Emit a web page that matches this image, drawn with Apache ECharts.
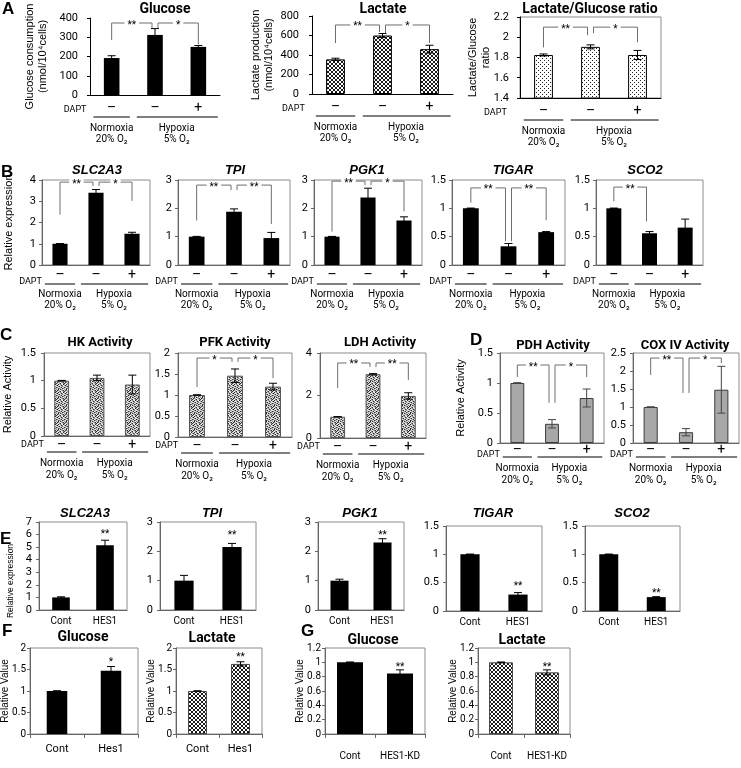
<!DOCTYPE html>
<html><head><meta charset="utf-8"><title>Figure</title>
<script src="https://cdn.jsdelivr.net/npm/echarts@6.0.0/dist/echarts.min.js"></script>
<style>html,body{margin:0;padding:0;background:#fff;}#chart{width:741px;height:768px;}</style>
</head><body><div id="chart"></div>
<script>
// ---------- categories & labels ----------
const conditions = ['Normoxia', 'Hypoxia', 'Hypoxia + DAPT'];
const daptSigns = ['–', '–', '+'];
const groupNames = ['Normoxia', 'Hypoxia'];
const groupO2 = ['20% O₂', '5% O₂'];
const catsE = ['Cont', 'HES1'];
const catsF = ['Cont', 'Hes1'];
const catsG = ['Cont', 'HES1-KD'];

// ---------- A ----------
const aGlucose = [192, 312, 250];
const aGlucoseErr = [12, 33, 7];
const aGlucoseSig = [[0, 1, 374, 286, 348, '**'], [1, 2, 374, 348, 262, '*']];
const aLactate = [355, 600, 460];
const aLactateErr = [12, 20, 40];
const aLactateSig = [[0, 1, 708, 523, 636, '**'], [1, 2, 708, 625, 523, '*']];
const aRatio = [1.825, 1.905, 1.825];
const aRatioErr = [0.01, 0.02, 0.045];
const aRatioSig = [[0, 1, 2.1, 1.9, 2.02, '**'], [1, 2, 2.1, 2.04, 1.95, '*']];

// ---------- B ----------
const bSLC2A3 = [1, 3.4, 1.47];
const bSLC2A3Err = [0.005, 0.15, 0.07];
const bSLC2A3Sig = [[0, 1, 3.9, 2.37, 3.72, '**'], [1, 2, 3.9, 3.72, 3.02, '*']];
const bTPI = [1, 1.88, 0.95];
const bTPIErr = [0.01, 0.1, 0.2];
const bTPISig = [[0, 1, 2.82, 1.57, 2.64, '**'], [1, 2, 2.82, 2.64, 1.45, '**']];
const bPGK1 = [1, 2.38, 1.57];
const bPGK1Err = [0.01, 0.33, 0.13];
const bPGK1Sig = [[0, 1, 2.96, 1.18, 2.82, '**'], [1, 2, 2.96, 2.82, 1.89, '*']];
const bTIGAR = [1, 0.33, 0.58];
const bTIGARErr = [0.005, 0.05, 0.01];
const bTIGARSig = [[0, 1, 1.36, 1.1, 0.42, '**'], [1, 2, 1.36, 0.42, 0.79, '**']];
const bSCO2 = [1, 0.56, 0.66];
const bSCO2Err = [0.005, 0.03, 0.15];
const bSCO2Sig = [[0, 1, 1.375, 1.125, 0.77, '**']];

// ---------- C ----------
const cHK = [1, 1.05, 0.93];
const cHKErr = [0.005, 0.05, 0.17];
const cHKSig = [];
const cPFK = [1, 1.46, 1.2];
const cPFKErr = [0.005, 0.16, 0.08];
const cPFKSig = [[0, 1, 1.88, 1.19, 1.79, '*'], [1, 2, 1.88, 1.79, 1.4, '*']];
const cLDH = [1, 3, 1.98];
const cLDHErr = [0.005, 0.03, 0.15];
const cLDHSig = [[0, 1, 3.53, 2.35, 3.34, '**'], [1, 2, 3.53, 3.34, 2.73, '**']];

// ---------- D ----------
const dPDH = [1, 0.32, 0.75];
const dPDHErr = [0.005, 0.07, 0.15];
const dPDHSig = [[0, 1, 1.3, 1.1, 0.67, '**'], [1, 2, 1.3, 0.67, 1.1, '*']];
const dCOX = [1, 0.3, 1.48];
const dCOXErr = [0.005, 0.1, 0.65];
const dCOXSig = [[0, 1, 2.36, 1.89, 1.39, '**'], [1, 2, 2.36, 1.39, 2.22, '*']];

// ---------- E ----------
const eSLC2A3 = [1, 5.15];
const eSLC2A3Err = [0.05, 0.4];
const eSLC2A3Star = [[1, 6.2, '**']];
const eTPI = [1, 2.15];
const eTPIErr = [0.18, 0.12];
const eTPIStar = [[1, 2.62, '**']];
const ePGK1 = [1, 2.3];
const ePGK1Err = [0.05, 0.13];
const ePGK1Star = [[1, 2.62, '**']];
const eTIGAR = [1, 0.29];
const eTIGARErr = [0.005, 0.035];
const eTIGARStar = [[1, 0.46, '**']];
const eSCO2 = [1, 0.245];
const eSCO2Err = [0.005, 0.008];
const eSCO2Star = [[1, 0.34, '**']];

// ---------- F ----------
const fGlucose = [1, 1.47];
const fGlucoseErr = [0.005, 0.1];
const fGlucoseStar = [[1, 1.72, '*']];
const fLactate = [1, 1.63];
const fLactateErr = [0.005, 0.05];
const fLactateStar = [[1, 1.83, '**']];

// ---------- G ----------
const gGlucose = [1, 0.845];
const gGlucoseErr = [0.005, 0.05];
const gGlucoseStar = [[1, 0.96, '**']];
const gLactate = [1, 0.86];
const gLactateErr = [0.005, 0.035];
const gLactateStar = [[1, 0.96, '**']];

// ================= rendering =================
const FN = '"Liberation Sans Narrow", Roboto, "Liberation Sans", sans-serif';
const FA = '"Liberation Sans", Arial, sans-serif';

function pat(rows, colors) {
  const c = document.createElement('canvas');
  c.width = rows[0].length; c.height = rows.length;
  const g = c.getContext('2d');
  rows.forEach((r, y) => { for (let x = 0; x < r.length; x++) { g.fillStyle = colors[r[x]]; g.fillRect(x, y, 1, 1); } });
  return { image: c, repeat: 'repeat' };
}
const HATCH = pat(['k..k', '.kk.', '.kk.', 'k..k'], { k: '#1a1a1a', '.': '#ffffff' });
const DOTS = pat(['k...', '....', '..k.', '....'], { k: '#222222', '.': '#ffffff' });
const GRANITE = pat([
  'lwdlmlwd', 'mdlwldmw', 'wlmdwlml', 'dmwlmdwl',
  'lwdmlwdm', 'mldwdmlw', 'wdmlwlmd', 'dlwmdwlm'
], { d: '#2e2e2e', m: '#8a8a8a', l: '#c4c4c4', w: '#f2f2f2' });

const ROW = {
  A: { dash: 13, dapt: 15, line: 22, g1: 33, g2: 44 },
  B: { dash: 10, dapt: 17, line: 19, g1: 29, g2: 40 },
  C: { dash: 9, dapt: 9, line: 16, g1: 27, g2: 39 },
  D: { dash: 7, dapt: 12, line: 14, g1: 25, g2: 37 }
};

const option = { animation: false, backgroundColor: '#fff', grid: [], xAxis: [], yAxis: [], series: [], graphic: [] };

function T(text, x, y, font, align) {
  return { type: 'text', silent: true, style: { text: text, x: x, y: y, font: font, fill: '#000', align: align, verticalAlign: 'middle', textAlign: align, textVerticalAlign: 'middle' } };
}
function L(x1, x2, y, color) {
  return { type: 'line', silent: true, shape: { x1: x1, y1: y, x2: x2, y2: y }, style: { stroke: color || '#000', lineWidth: 1 } };
}
function addText(text, x, y, font, align, rotation) {
  option.graphic.push({ type: 'text', x: x, y: y, rotation: rotation || 0, silent: true, style: { text: text, font: font, fill: '#000', align: align || 'center', verticalAlign: 'middle', textAlign: align || 'center', textVerticalAlign: 'middle' } });
}

function addPanel(p) {
  const gi = option.grid.length;
  const axisColor = p.axisColor || '#000';
  option.grid.push({ left: p.l, top: p.t, width: p.w, height: p.h, show: !!p.box, borderColor: '#8c8c8c', borderWidth: 1, backgroundColor: 'transparent', containLabel: false, outerBoundsMode: 'none' });
  option.xAxis.push({
    type: 'category', gridIndex: gi, data: p.cats, boundaryGap: true,
    axisLine: { show: true, onZero: false, lineStyle: { color: axisColor, width: 1 } },
    axisTick: { show: !!p.xTicks, length: 4, alignWithLabel: false, lineStyle: { color: axisColor } },
    axisLabel: { show: !!p.showCats, interval: 0, margin: p.catMargin || 6, fontFamily: FN, fontSize: p.catSize || 10, color: '#000' },
    splitLine: { show: false }
  });
  option.yAxis.push({
    type: 'value', gridIndex: gi, min: p.yMin, max: p.yMax, interval: p.yInt,
    axisLine: { show: true, lineStyle: { color: axisColor, width: 1 } },
    axisTick: { show: true, length: 3, lineStyle: { color: axisColor } },
    axisLabel: { margin: p.lm, fontFamily: FN, fontSize: p.tickSize || 11, color: '#000' },
    splitLine: { show: false },
    name: p.yName || '', nameLocation: 'middle', nameGap: p.gap || 20, nameRotate: 90, nameMoveOverlap: false,
    nameTextStyle: { fontFamily: FA, fontSize: p.yNameSize || 11, color: '#000', lineHeight: p.yNameLH || 13 }
  });
  option.series.push({
    type: 'bar', xAxisIndex: gi, yAxisIndex: gi, data: p.values, barWidth: p.barWidth || '42%', silent: true,
    itemStyle: { color: p.fill, borderColor: p.border || '#000', borderWidth: p.bw || 0 }
  });
  // error bars
  const errColor = p.errColor || '#000';
  option.series.push({
    type: 'custom', xAxisIndex: gi, yAxisIndex: gi, silent: true, z: 5,
    data: p.values.map((v, i) => [i, v, p.errs[i]]),
    encode: { x: 0, y: 1 },
    renderItem: function (params, api) {
      const i = api.value(0), v = api.value(1), e = api.value(2);
      const top = api.coord([i, v + e]), bot = api.coord([i, v - e]);
      const hw = p.cap || 4;
      const st = { stroke: errColor, lineWidth: 1 };
      return { type: 'group', children: [
        { type: 'line', shape: { x1: top[0], y1: top[1], x2: bot[0], y2: bot[1] }, style: st },
        { type: 'line', shape: { x1: top[0] - hw, y1: top[1], x2: top[0] + hw, y2: top[1] }, style: st },
        { type: 'line', shape: { x1: bot[0] - hw, y1: bot[1], x2: bot[0] + hw, y2: bot[1] }, style: st }
      ] };
    }
  });
  // significance brackets
  if (p.sig && p.sig.length) {
    option.series.push({
      type: 'custom', xAxisIndex: gi, yAxisIndex: gi, silent: true, z: 6,
      data: p.sig.map(b => [b[0], b[2]]),
      encode: { x: 0, y: 1 },
      renderItem: function (params, api) {
        const b = p.sig[params.dataIndex];
        const xa = api.coord([b[0], b[2]])[0] + (b[0] === 1 ? 3 : 0);
        const xb = api.coord([b[1], b[2]])[0] - (b[1] === 1 ? 3 : 0);
        const yt = api.coord([b[0], b[2]])[1];
        const yl = api.coord([b[0], b[3]])[1];
        const yr = api.coord([b[1], b[4]])[1];
        const lab = T(b[5], (xa + xb) / 2, yt + 2, '10px ' + FN, 'center');
        lab.style.backgroundColor = '#fff';
        lab.style.padding = [0, 3];
        return { type: 'group', children: [
          { type: 'polyline', shape: { points: [[xa, yl], [xa, yt], [xb, yt], [xb, yr]] }, style: { stroke: p.sigColor || '#6e6e6e', fill: null, lineWidth: 1 } },
          lab
        ] };
      }
    });
  }
  // stars above bars
  if (p.stars && p.stars.length) {
    option.series.push({
      type: 'custom', xAxisIndex: gi, yAxisIndex: gi, silent: true, z: 6,
      data: p.stars.map(s => [s[0], s[1]]),
      encode: { x: 0, y: 1 },
      renderItem: function (params, api) {
        const s = p.stars[params.dataIndex];
        const c = api.coord([s[0], s[1]]);
        return T(s[2], c[0], c[1] + 2, '10px ' + FN, 'center');
      }
    });
  }
  // DAPT / oxygen group labels
  if (p.row) {
    option.series.push({
      type: 'custom', xAxisIndex: gi, yAxisIndex: gi, silent: true, z: 6, clip: false,
      data: [[0, p.yMin]],
      encode: { x: 0, y: 1 },
      renderItem: function (params, api) {
        const cw = api.size([1, 0])[0];
        const pts = [0, 1, 2].map(i => api.coord([i, p.yMin]));
        const y0 = pts[0][1];
        const r = p.row;
        const f = (p.gSize || 10) + 'px ' + FN;
        const kids = [];
        daptSigns.forEach((s, i) => kids.push(T(s, pts[i][0], y0 + r.dash, '14px ' + FN, 'center')));
        const l1 = pts[0][0] - cw * 0.42, r1 = pts[0][0] + cw * 0.42;
        const l2 = pts[1][0] - cw * 0.42, r2 = pts[2][0] + cw * 0.45;
        kids.push(T('DAPT', l1 - 3 + (p.daptDx || 0), y0 + r.dapt, '9px ' + FN, 'right'));
        kids.push(L(l1, r1, y0 + r.line), L(l2, r2, y0 + r.line));
        const mid = (pts[1][0] + pts[2][0]) / 2;
        kids.push(T(groupNames[0], pts[0][0], y0 + r.g1, f, 'center'));
        kids.push(T(groupO2[0], pts[0][0], y0 + r.g2, f, 'center'));
        kids.push(T(groupNames[1], mid, y0 + r.g1, f, 'center'));
        kids.push(T(groupO2[1], mid, y0 + r.g2, f, 'center'));
        return { type: 'group', children: kids };
      }
    });
  }
  if (p.title) addText(p.title, p.tx, p.ty, p.tfont, 'center');
}

const titleA = 'bold 14px ' + FN;
const titleGene = 'italic bold 13px ' + FA;
const titleC = 'bold 13px ' + FN;
const grey = '#666';

const panels = [
  // ---- A ----
  { cats: conditions, values: aGlucose, errs: aGlucoseErr, sig: aGlucoseSig, yMin: 0, yMax: 400, yInt: 100,
    l: 90, t: 18, w: 130, h: 77, title: 'Glucose', tx: 165, ty: 9, tfont: titleA,
    yName: 'Glucose consumption\n(nmol/10⁴cells)', gap: 41, lm: 12, fill: '#000', border: '#000', bw: 0,
    row: ROW.A, barWidth: '36%', box: false, daptDx: -4 },
  { cats: conditions, values: aLactate, errs: aLactateErr, sig: aLactateSig, yMin: 0, yMax: 800, yInt: 200,
    l: 312, t: 16, w: 141, h: 78, title: 'Lactate', tx: 383, ty: 9, tfont: titleA,
    yName: 'Lactate production\n(nmol/10⁴cells)', gap: 37, lm: 13, fill: HATCH, border: '#000', bw: 1,
    row: ROW.A, barWidth: '40%', box: false, daptDx: -8 },
  { cats: conditions, values: aRatio, errs: aRatioErr, sig: aRatioSig, yMin: 1.4, yMax: 2.2, yInt: 0.2,
    l: 520, t: 17, w: 141, h: 81, title: 'Lactate/Glucose ratio', tx: 590, ty: 9, tfont: titleA,
    yName: 'Lactate/Glucose\nratio', gap: 28, lm: 11, fill: DOTS, border: '#000', bw: 1,
    row: ROW.A, barWidth: '40%', box: true, daptDx: -14 },
  // ---- B ----
  { cats: conditions, values: bSLC2A3, errs: bSLC2A3Err, sig: bSLC2A3Sig, yMin: 0, yMax: 4, yInt: 1,
    l: 42, t: 180, w: 108, h: 85, title: 'SLC2A3', tx: 97, ty: 170, tfont: titleGene,
    yName: 'Relative expression', gap: 27, lm: 6, fill: '#000', row: ROW.B, box: true, axisColor: grey },
  { cats: conditions, values: bTPI, errs: bTPIErr, sig: bTPISig, yMin: 0, yMax: 3, yInt: 1,
    l: 178, t: 180, w: 112, h: 85, title: 'TPI', tx: 235, ty: 170, tfont: titleGene,
    lm: 6, fill: '#000', row: ROW.B, box: true, axisColor: grey },
  { cats: conditions, values: bPGK1, errs: bPGK1Err, sig: bPGK1Sig, yMin: 0, yMax: 3, yInt: 1,
    l: 314, t: 180, w: 108, h: 85, title: 'PGK1', tx: 367, ty: 170, tfont: titleGene,
    lm: 6, fill: '#000', row: ROW.B, box: true, axisColor: grey },
  { cats: conditions, values: bTIGAR, errs: bTIGARErr, sig: bTIGARSig, yMin: 0, yMax: 1.5, yInt: 0.5,
    l: 452, t: 180, w: 113, h: 85, title: 'TIGAR', tx: 513, ty: 170, tfont: titleGene,
    lm: 6, fill: '#000', row: ROW.B, box: true, axisColor: grey },
  { cats: conditions, values: bSCO2, errs: bSCO2Err, sig: bSCO2Sig, yMin: 0, yMax: 1.5, yInt: 0.5,
    l: 596, t: 180, w: 107, h: 85, title: 'SCO2', tx: 645, ty: 170, tfont: titleGene,
    lm: 6, fill: '#000', row: ROW.B, box: true, axisColor: grey },
  // ---- C ----
  { cats: conditions, values: cHK, errs: cHKErr, sig: cHKSig, yMin: 0, yMax: 1.5, yInt: 0.5,
    l: 44, t: 353, w: 106, h: 83, title: 'HK Activity', tx: 100, ty: 343, tfont: titleC,
    yName: 'Relative Activity', gap: 30, lm: 8, fill: GRANITE, border: '#555', bw: 1, row: ROW.C, box: true, axisColor: grey },
  { cats: conditions, values: cPFK, errs: cPFKErr, sig: cPFKSig, yMin: 0, yMax: 2, yInt: 0.5,
    l: 178, t: 353, w: 114, h: 84, title: 'PFK Activity', tx: 235, ty: 343, tfont: titleC,
    lm: 8, fill: GRANITE, border: '#555', bw: 1, row: ROW.C, box: true, axisColor: grey },
  { cats: conditions, values: cLDH, errs: cLDHErr, sig: cLDHSig, yMin: 0, yMax: 4, yInt: 2,
    l: 320, t: 353, w: 106, h: 85, title: 'LDH Activity', tx: 380, ty: 343, tfont: titleC,
    lm: 8, fill: GRANITE, border: '#555', bw: 1, row: ROW.C, box: true, axisColor: grey },
  // ---- D ----
  { cats: conditions, values: dPDH, errs: dPDHErr, sig: dPDHSig, yMin: 0, yMax: 1.5, yInt: 0.5,
    l: 500, t: 353, w: 104, h: 90, title: 'PDH Activity', tx: 553, ty: 346, tfont: titleC,
    yName: 'Relative Activity', gap: 33, lm: 7, fill: '#a8a8a8', border: '#3c3c3c', bw: 1, errColor: '#444',
    row: ROW.D, box: true, axisColor: grey, barWidth: '40%' },
  { cats: conditions, values: dCOX, errs: dCOXErr, sig: dCOXSig, yMin: 0, yMax: 2.5, yInt: 0.5,
    l: 633, t: 353, w: 106, h: 90, title: 'COX IV Activity', tx: 685, ty: 346, tfont: titleC,
    lm: 7, fill: '#a8a8a8', border: '#3c3c3c', bw: 1, errColor: '#444',
    row: ROW.D, box: true, axisColor: grey, barWidth: '40%' },
  // ---- E ----
  { cats: catsE, values: eSLC2A3, errs: eSLC2A3Err, stars: eSLC2A3Star, yMin: 0, yMax: 7, yInt: 1,
    l: 39, t: 522, w: 88, h: 88, title: 'SLC2A3', tx: 85, ty: 513, tfont: titleGene,
    lm: 7, fill: '#000', box: true, axisColor: grey,
    showCats: true, catMargin: 6, barWidth: '40%' },
  { cats: catsE, values: eTPI, errs: eTPIErr, stars: eTPIStar, yMin: 0, yMax: 3, yInt: 1,
    l: 160, t: 522, w: 96, h: 88, title: 'TPI', tx: 212, ty: 513, tfont: titleGene,
    lm: 7, fill: '#000', box: true, axisColor: grey, showCats: true, catMargin: 6, barWidth: '40%' },
  { cats: catsE, values: ePGK1, errs: ePGK1Err, stars: ePGK1Star, yMin: 0, yMax: 3, yInt: 1,
    l: 318, t: 522, w: 86, h: 88, title: 'PGK1', tx: 360, ty: 513, tfont: titleGene,
    lm: 7, fill: '#000', box: true, axisColor: grey, showCats: true, catMargin: 6, barWidth: '42%' },
  { cats: catsE, values: eTIGAR, errs: eTIGARErr, stars: eTIGARStar, yMin: 0, yMax: 1.5, yInt: 0.5,
    l: 446, t: 526, w: 96, h: 85, title: 'TIGAR', tx: 493, ty: 513, tfont: titleGene,
    lm: 7, fill: '#000', box: true, axisColor: grey, showCats: true, catMargin: 6, barWidth: '40%' },
  { cats: catsE, values: eSCO2, errs: eSCO2Err, stars: eSCO2Star, yMin: 0, yMax: 1.5, yInt: 0.5,
    l: 585, t: 526, w: 95, h: 85, title: 'SCO2', tx: 632, ty: 513, tfont: titleGene,
    lm: 7, fill: '#000', box: true, axisColor: grey, showCats: true, catMargin: 6, barWidth: '40%' },
  // ---- F ----
  { cats: catsF, values: fGlucose, errs: fGlucoseErr, stars: fGlucoseStar, yMin: 0, yMax: 2, yInt: 0.5,
    l: 30, t: 648, w: 108, h: 86, title: 'Glucose', tx: 83, ty: 637, tfont: titleA,
    yName: 'Relative Value', gap: 19, yNameSize: 10, yNameLH: 11, lm: 4, tickSize: 10, fill: '#000', box: true, axisColor: grey,
    showCats: true, catMargin: 10, catSize: 11, barWidth: '38%', xTicks: true },
  { cats: catsF, values: fLactate, errs: fLactateErr, stars: fLactateStar, yMin: 0, yMax: 2, yInt: 0.5,
    l: 176, t: 648, w: 86, h: 86, title: 'Lactate', tx: 212, ty: 638, tfont: titleA,
    yName: 'Relative Value', gap: 19, yNameSize: 10, yNameLH: 11, lm: 4, tickSize: 10, fill: HATCH, border: '#444', bw: 1, box: true, axisColor: grey,
    showCats: true, catMargin: 10, catSize: 11, barWidth: '44%', xTicks: true },
  // ---- G ----
  { cats: catsG, values: gGlucose, errs: gGlucoseErr, stars: gGlucoseStar, yMin: 0, yMax: 1.2, yInt: 0.2,
    l: 325, t: 648, w: 100, h: 86, title: 'Glucose', tx: 373, ty: 640, tfont: titleA,
    yName: 'Relative Value', gap: 19, yNameSize: 10, yNameLH: 11, lm: 4, tickSize: 10, fill: '#000', box: true, axisColor: grey,
    showCats: true, catMargin: 17, catSize: 10, barWidth: '52%', xTicks: true },
  { cats: catsG, values: gLactate, errs: gLactateErr, stars: gLactateStar, yMin: 0, yMax: 1.2, yInt: 0.2,
    l: 478, t: 648, w: 92, h: 86, title: 'Lactate', tx: 522, ty: 640, tfont: titleA,
    yName: 'Relative Value', gap: 19, yNameSize: 10, yNameLH: 11, lm: 4, tickSize: 10, fill: HATCH, border: '#444', bw: 1, box: true, axisColor: grey,
    showCats: true, catMargin: 17, catSize: 10, barWidth: '52%', xTicks: true }
];
panels.forEach(addPanel);

// E row y-axis title (sits below the panel letter)
addText('Relative expression', 11, 581, '8.5px ' + FA, 'center', Math.PI / 2);

// panel letters
const letterFont = 'bold 17px ' + FA;
[['A', 2, 9], ['B', 1, 172], ['C', 0, 335], ['D', 470, 340], ['E', 0, 539], ['F', 2, 631], ['G', 301, 631]]
  .forEach(a => addText(a[0], a[1], a[2], letterFont, 'left'));

const chart = echarts.init(document.getElementById('chart'), null, { renderer: 'canvas' });
chart.setOption(option);
</script></body></html>
